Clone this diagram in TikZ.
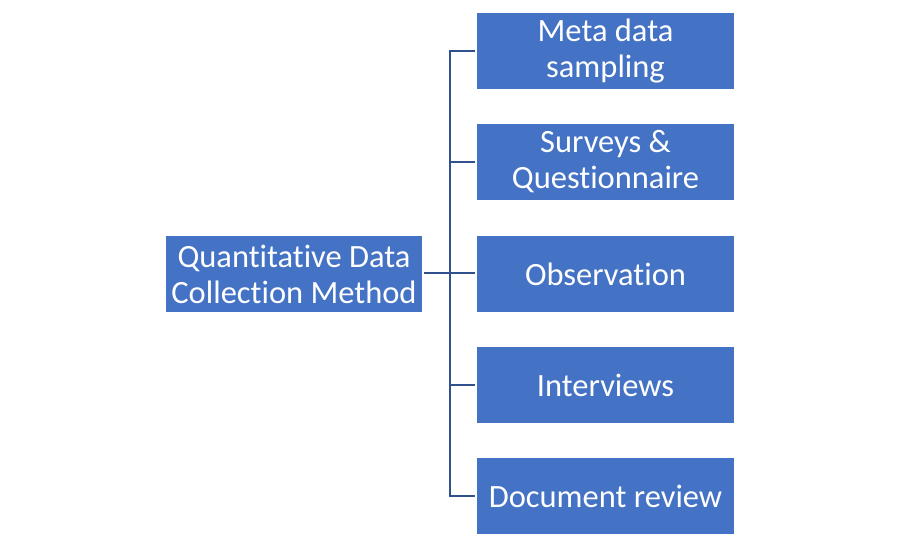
\documentclass[tikz,border=0pt]{standalone}
\usepackage{fontspec}
\setmainfont{Carlito}[Ligatures=NoCommon]
\definecolor{boxblue}{HTML}{4472C4}
\definecolor{lineblue}{HTML}{2F528F}
\begin{document}
\begin{tikzpicture}[x=1pt,y=-1pt,
  bx/.style={fill=boxblue,draw=none,text=white,minimum width=257pt,minimum height=76pt,align=center,inner sep=0pt,font=\fontsize{32.5}{36}\selectfont},
  conn/.style={draw=lineblue,line width=2pt}]
\useasboundingbox (0,0) rectangle (900,537);
\node[bx,minimum width=256pt] (root) at (294,274) {Quantitative Data\\Collection Method};
\node[bx] (a) at (605.5,51) {Meta data\\sampling};
\node[bx] (b) at (605.5,162) {Surveys \&\\Questionnaire};
\node[bx] (c) at (605.5,274) {Observation};
\node[bx] (d) at (605.5,385) {Interviews};
\node[bx] (e) at (605.5,496) {Document review};
\coordinate (j) at (450,273);
\draw[conn] ([xshift=2pt]root.east |- j) -- (j);
\draw[conn] ([xshift=-2pt]a.west) -| (j) |- ([xshift=-2pt]e.west);
\draw[conn] ([xshift=-2pt]b.west) -- (b.west -| j);
\draw[conn] ([xshift=-2pt]c.west |- j) -- (j);
\draw[conn] ([xshift=-2pt]d.west) -- (d.west -| j);
\end{tikzpicture}
\end{document}
